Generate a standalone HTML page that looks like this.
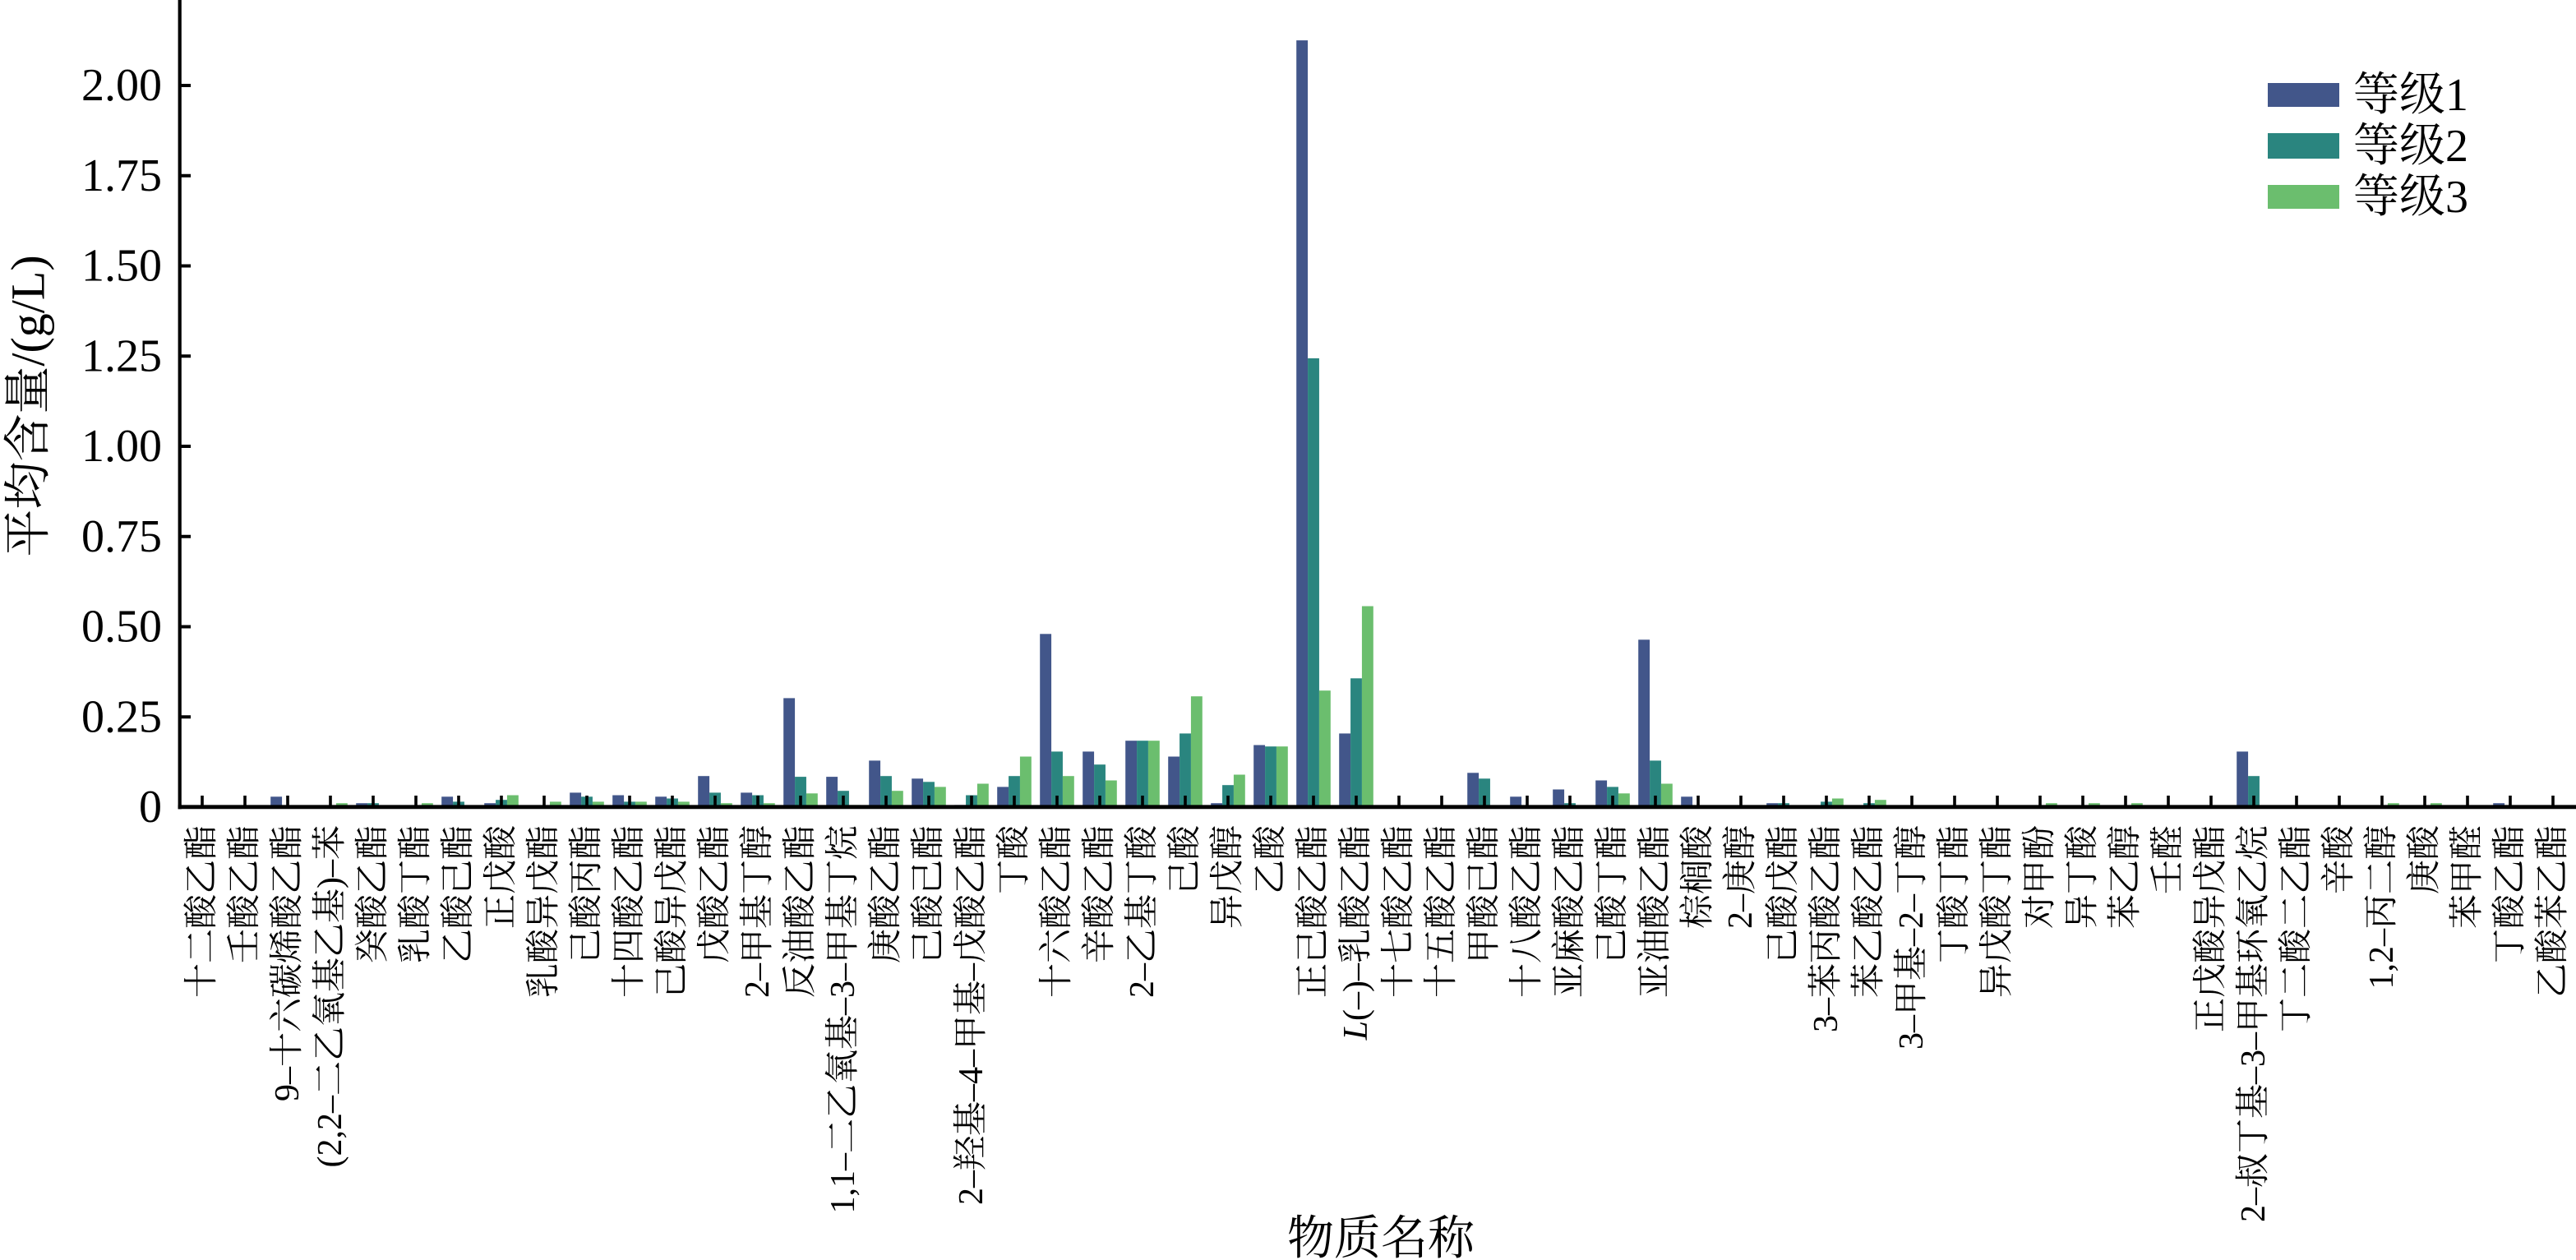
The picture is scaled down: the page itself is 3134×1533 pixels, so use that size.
<!DOCTYPE html>
<html>
<head>
<meta charset="utf-8">
<style>
  html,body{margin:0;padding:0;background:#fff;}
  svg{display:block;}
  text{font-family:"Liberation Serif","Noto Serif CJK SC",serif;fill:#000;}
  .xl{font-size:42px;}
  .b1{fill:#42568a;}
  .b2{fill:#2a857f;}
  .b3{fill:#6bbe6e;}
</style>
</head>
<body>
<svg width="3134" height="1533" viewBox="0 0 3134 1533" xmlns="http://www.w3.org/2000/svg">
<rect x="0" y="0" width="3134" height="1533" fill="#fff"/>

<!-- bars: groups translated to center, flipped -->
<g>
<g transform="translate(246,982) scale(1,-1)"><rect class="b1" x="-20.8" y="0" width="13.87" height="1.8"/><rect class="b2" x="-6.93" y="0" width="13.87" height="1.3"/><rect class="b3" x="6.93" y="0" width="13.87" height="1.8"/></g>
<g transform="translate(298,982) scale(1,-1)"><rect class="b1" x="-20.8" y="0" width="13.87" height="1.8"/><rect class="b2" x="-6.93" y="0" width="13.87" height="1.3"/></g>
<g transform="translate(350,982) scale(1,-1)"><rect class="b1" x="-20.8" y="0" width="13.87" height="12.7"/><rect class="b2" x="-6.93" y="0" width="13.87" height="1.8"/></g>
<g transform="translate(402,982) scale(1,-1)"><rect class="b2" x="-6.93" y="0" width="13.87" height="1.8"/><rect class="b3" x="6.93" y="0" width="13.87" height="4.8"/></g>
<g transform="translate(454,982) scale(1,-1)"><rect class="b1" x="-20.8" y="0" width="13.87" height="4.8"/><rect class="b2" x="-6.93" y="0" width="13.87" height="4.8"/><rect class="b3" x="6.93" y="0" width="13.87" height="1.8"/></g>
<g transform="translate(506,982) scale(1,-1)"><rect class="b1" x="-20.8" y="0" width="13.87" height="1.3"/><rect class="b3" x="6.93" y="0" width="13.87" height="4.8"/></g>
<g transform="translate(558,982) scale(1,-1)"><rect class="b1" x="-20.8" y="0" width="13.87" height="12.7"/><rect class="b2" x="-6.93" y="0" width="13.87" height="6.6"/></g>
<g transform="translate(610,982) scale(1,-1)"><rect class="b1" x="-20.8" y="0" width="13.87" height="4.8"/><rect class="b2" x="-6.93" y="0" width="13.87" height="8.8"/><rect class="b3" x="6.93" y="0" width="13.87" height="14.5"/></g>
<g transform="translate(662,982) scale(1,-1)"><rect class="b1" x="-20.8" y="0" width="13.87" height="1.8"/><rect class="b3" x="6.93" y="0" width="13.87" height="6.6"/></g>
<g transform="translate(714,982) scale(1,-1)"><rect class="b1" x="-20.8" y="0" width="13.87" height="17.6"/><rect class="b2" x="-6.93" y="0" width="13.87" height="12.7"/><rect class="b3" x="6.93" y="0" width="13.87" height="6.6"/></g>
<g transform="translate(766,982) scale(1,-1)"><rect class="b1" x="-20.8" y="0" width="13.87" height="14.5"/><rect class="b2" x="-6.93" y="0" width="13.87" height="6.6"/><rect class="b3" x="6.93" y="0" width="13.87" height="6.6"/></g>
<g transform="translate(818,982) scale(1,-1)"><rect class="b1" x="-20.8" y="0" width="13.87" height="12.7"/><rect class="b2" x="-6.93" y="0" width="13.87" height="10.5"/><rect class="b3" x="6.93" y="0" width="13.87" height="6.6"/></g>
<g transform="translate(870,982) scale(1,-1)"><rect class="b1" x="-20.8" y="0" width="13.87" height="37.8"/><rect class="b2" x="-6.93" y="0" width="13.87" height="17.6"/><rect class="b3" x="6.93" y="0" width="13.87" height="4.8"/></g>
<g transform="translate(922,982) scale(1,-1)"><rect class="b1" x="-20.8" y="0" width="13.87" height="17.6"/><rect class="b2" x="-6.93" y="0" width="13.87" height="14.5"/><rect class="b3" x="6.93" y="0" width="13.87" height="4.8"/></g>
<g transform="translate(974,982) scale(1,-1)"><rect class="b1" x="-20.8" y="0" width="13.87" height="132.6"/><rect class="b2" x="-6.93" y="0" width="13.87" height="36.9"/><rect class="b3" x="6.93" y="0" width="13.87" height="16.7"/></g>
<g transform="translate(1026,982) scale(1,-1)"><rect class="b1" x="-20.8" y="0" width="13.87" height="36.9"/><rect class="b2" x="-6.93" y="0" width="13.87" height="19.8"/><rect class="b3" x="6.93" y="0" width="13.87" height="2.6"/></g>
<g transform="translate(1078,982) scale(1,-1)"><rect class="b1" x="-20.8" y="0" width="13.87" height="56.6"/><rect class="b2" x="-6.93" y="0" width="13.87" height="37.8"/><rect class="b3" x="6.93" y="0" width="13.87" height="19.8"/></g>
<g transform="translate(1130,982) scale(1,-1)"><rect class="b1" x="-20.8" y="0" width="13.87" height="34.7"/><rect class="b2" x="-6.93" y="0" width="13.87" height="30.7"/><rect class="b3" x="6.93" y="0" width="13.87" height="24.6"/></g>
<g transform="translate(1182,982) scale(1,-1)"><rect class="b1" x="-20.8" y="0" width="13.87" height="2.6"/><rect class="b2" x="-6.93" y="0" width="13.87" height="14.5"/><rect class="b3" x="6.93" y="0" width="13.87" height="28.5"/></g>
<g transform="translate(1234,982) scale(1,-1)"><rect class="b1" x="-20.8" y="0" width="13.87" height="24.6"/><rect class="b2" x="-6.93" y="0" width="13.87" height="37.8"/><rect class="b3" x="6.93" y="0" width="13.87" height="61.5"/></g>
<g transform="translate(1286,982) scale(1,-1)"><rect class="b1" x="-20.8" y="0" width="13.87" height="210.7"/><rect class="b2" x="-6.93" y="0" width="13.87" height="67.6"/><rect class="b3" x="6.93" y="0" width="13.87" height="37.8"/></g>
<g transform="translate(1338,982) scale(1,-1)"><rect class="b1" x="-20.8" y="0" width="13.87" height="67.6"/><rect class="b2" x="-6.93" y="0" width="13.87" height="51.8"/><rect class="b3" x="6.93" y="0" width="13.87" height="32.5"/></g>
<g transform="translate(1390,982) scale(1,-1)"><rect class="b1" x="-20.8" y="0" width="13.87" height="80.8"/><rect class="b2" x="-6.93" y="0" width="13.87" height="80.8"/><rect class="b3" x="6.93" y="0" width="13.87" height="80.8"/></g>
<g transform="translate(1442,982) scale(1,-1)"><rect class="b1" x="-20.8" y="0" width="13.87" height="61.5"/><rect class="b2" x="-6.93" y="0" width="13.87" height="89.6"/><rect class="b3" x="6.93" y="0" width="13.87" height="134.8"/></g>
<g transform="translate(1494,982) scale(1,-1)"><rect class="b1" x="-20.8" y="0" width="13.87" height="4.8"/><rect class="b2" x="-6.93" y="0" width="13.87" height="26.8"/><rect class="b3" x="6.93" y="0" width="13.87" height="39.5"/></g>
<g transform="translate(1546,982) scale(1,-1)"><rect class="b1" x="-20.8" y="0" width="13.87" height="75.5"/><rect class="b2" x="-6.93" y="0" width="13.87" height="73.8"/><rect class="b3" x="6.93" y="0" width="13.87" height="73.8"/></g>
<g transform="translate(1598,982) scale(1,-1)"><rect class="b1" x="-20.8" y="0" width="13.87" height="932.9"/><rect class="b2" x="-6.93" y="0" width="13.87" height="546.1"/><rect class="b3" x="6.93" y="0" width="13.87" height="141.8"/></g>
<g transform="translate(1650,982) scale(1,-1)"><rect class="b1" x="-20.8" y="0" width="13.87" height="89.6"/><rect class="b2" x="-6.93" y="0" width="13.87" height="156.7"/><rect class="b3" x="6.93" y="0" width="13.87" height="244.5"/></g>
<g transform="translate(1702,982) scale(1,-1)"><rect class="b1" x="-20.8" y="0" width="13.87" height="1.8"/></g>
<g transform="translate(1754,982) scale(1,-1)"><rect class="b1" x="-20.8" y="0" width="13.87" height="1.8"/></g>
<g transform="translate(1806,982) scale(1,-1)"><rect class="b1" x="-20.8" y="0" width="13.87" height="41.7"/><rect class="b2" x="-6.93" y="0" width="13.87" height="34.7"/></g>
<g transform="translate(1858,982) scale(1,-1)"><rect class="b1" x="-20.8" y="0" width="13.87" height="12.7"/><rect class="b2" x="-6.93" y="0" width="13.87" height="1.8"/></g>
<g transform="translate(1910,982) scale(1,-1)"><rect class="b1" x="-20.8" y="0" width="13.87" height="21.5"/><rect class="b2" x="-6.93" y="0" width="13.87" height="4.8"/></g>
<g transform="translate(1962,982) scale(1,-1)"><rect class="b1" x="-20.8" y="0" width="13.87" height="32.5"/><rect class="b2" x="-6.93" y="0" width="13.87" height="24.6"/><rect class="b3" x="6.93" y="0" width="13.87" height="16.7"/></g>
<g transform="translate(2014,982) scale(1,-1)"><rect class="b1" x="-20.8" y="0" width="13.87" height="203.7"/><rect class="b2" x="-6.93" y="0" width="13.87" height="56.6"/><rect class="b3" x="6.93" y="0" width="13.87" height="28.5"/></g>
<g transform="translate(2066,982) scale(1,-1)"><rect class="b1" x="-20.8" y="0" width="13.87" height="12.7"/><rect class="b2" x="-6.93" y="0" width="13.87" height="1.8"/></g>
<g transform="translate(2170,982) scale(1,-1)"><rect class="b1" x="-20.8" y="0" width="13.87" height="4.8"/><rect class="b2" x="-6.93" y="0" width="13.87" height="4.8"/><rect class="b3" x="6.93" y="0" width="13.87" height="1.8"/></g>
<g transform="translate(2222,982) scale(1,-1)"><rect class="b1" x="-20.8" y="0" width="13.87" height="1.8"/><rect class="b2" x="-6.93" y="0" width="13.87" height="6.6"/><rect class="b3" x="6.93" y="0" width="13.87" height="10.5"/></g>
<g transform="translate(2274,982) scale(1,-1)"><rect class="b2" x="-6.93" y="0" width="13.87" height="4.8"/><rect class="b3" x="6.93" y="0" width="13.87" height="8.8"/></g>
<g transform="translate(2378,982) scale(1,-1)"><rect class="b1" x="-20.8" y="0" width="13.87" height="1.8"/><rect class="b2" x="-6.93" y="0" width="13.87" height="1.8"/></g>
<g transform="translate(2430,982) scale(1,-1)"><rect class="b1" x="-20.8" y="0" width="13.87" height="1.8"/></g>
<g transform="translate(2482,982) scale(1,-1)"><rect class="b2" x="-6.93" y="0" width="13.87" height="1.8"/><rect class="b3" x="6.93" y="0" width="13.87" height="4.8"/></g>
<g transform="translate(2534,982) scale(1,-1)"><rect class="b2" x="-6.93" y="0" width="13.87" height="1.8"/><rect class="b3" x="6.93" y="0" width="13.87" height="4.8"/></g>
<g transform="translate(2586,982) scale(1,-1)"><rect class="b1" x="-20.8" y="0" width="13.87" height="1.8"/><rect class="b2" x="-6.93" y="0" width="13.87" height="1.8"/><rect class="b3" x="6.93" y="0" width="13.87" height="4.8"/></g>
<g transform="translate(2742,982) scale(1,-1)"><rect class="b1" x="-20.8" y="0" width="13.87" height="67.6"/><rect class="b2" x="-6.93" y="0" width="13.87" height="37.8"/><rect class="b3" x="6.93" y="0" width="13.87" height="1.8"/></g>
<g transform="translate(2794,982) scale(1,-1)"><rect class="b2" x="-6.93" y="0" width="13.87" height="1.8"/><rect class="b3" x="6.93" y="0" width="13.87" height="1.8"/></g>
<g transform="translate(2846,982) scale(1,-1)"><rect class="b2" x="-6.93" y="0" width="13.87" height="1.8"/><rect class="b3" x="6.93" y="0" width="13.87" height="1.8"/></g>
<g transform="translate(2898,982) scale(1,-1)"><rect class="b2" x="-6.93" y="0" width="13.87" height="1.8"/><rect class="b3" x="6.93" y="0" width="13.87" height="4.8"/></g>
<g transform="translate(2950,982) scale(1,-1)"><rect class="b2" x="-6.93" y="0" width="13.87" height="1.8"/><rect class="b3" x="6.93" y="0" width="13.87" height="4.8"/></g>
<g transform="translate(3054,982) scale(1,-1)"><rect class="b1" x="-20.8" y="0" width="13.87" height="4.8"/><rect class="b2" x="-6.93" y="0" width="13.87" height="1.8"/></g>
<g transform="translate(3106,982) scale(1,-1)"><rect class="b3" x="6.93" y="0" width="13.87" height="1.8"/></g>
</g>

<!-- x ticks -->
<g stroke="#000" stroke-width="3.6">
<path d="M246 982V968M298 982V968M350 982V968M402 982V968M454 982V968M506 982V968M558 982V968M610 982V968M662 982V968M714 982V968M766 982V968M818 982V968M870 982V968M922 982V968M974 982V968M1026 982V968M1078 982V968M1130 982V968M1182 982V968M1234 982V968M1286 982V968M1338 982V968M1390 982V968M1442 982V968M1494 982V968M1546 982V968M1598 982V968M1650 982V968M1702 982V968M1754 982V968M1806 982V968M1858 982V968M1910 982V968M1962 982V968M2014 982V968M2066 982V968M2118 982V968M2170 982V968M2222 982V968M2274 982V968M2326 982V968M2378 982V968M2430 982V968M2482 982V968M2534 982V968M2586 982V968M2638 982V968M2690 982V968M2742 982V968M2794 982V968M2846 982V968M2898 982V968M2950 982V968M3002 982V968M3054 982V968M3106 982V968"/>
</g>

<!-- y ticks -->
<g stroke="#000" stroke-width="4">
<path d="M218 982H232M218 872.25H232M218 762.5H232M218 652.75H232M218 543H232M218 433.25H232M218 323.5H232M218 213.75H232M218 104H232"/>
</g>

<!-- spines -->
<line x1="218.7" y1="0" x2="218.7" y2="984.4" stroke="#000" stroke-width="4.2"/>
<line x1="216.6" y1="981.8" x2="3134" y2="981.8" stroke="#000" stroke-width="4.8"/>

<!-- y tick labels -->
<g font-size="56" text-anchor="end" dominant-baseline="central">
<text x="197" y="982">0</text>
<text x="197" y="872.25">0.25</text>
<text x="197" y="762.5">0.50</text>
<text x="197" y="652.75">0.75</text>
<text x="197" y="543">1.00</text>
<text x="197" y="433.25">1.25</text>
<text x="197" y="323.5">1.50</text>
<text x="197" y="213.75">1.75</text>
<text x="197" y="104">2.00</text>
</g>

<!-- y axis label -->
<text transform="translate(34,494) rotate(-90)" font-size="58" text-anchor="middle" dominant-baseline="central">平均含量/(g/L)</text>

<!-- x axis title -->
<text x="1680" y="1507" font-size="57" text-anchor="middle" dominant-baseline="central">物质名称</text>

<!-- x tick labels -->
<g class="xl" text-anchor="end" dominant-baseline="central">
<text transform="translate(246,1004) rotate(-90)">十二酸乙酯</text>
<text transform="translate(298,1004) rotate(-90)">壬酸乙酯</text>
<text transform="translate(350,1004) rotate(-90)">9–十六碳烯酸乙酯</text>
<text transform="translate(402,1004) rotate(-90)">(2,2–二乙氧基乙基)–苯</text>
<text transform="translate(454,1004) rotate(-90)">癸酸乙酯</text>
<text transform="translate(506,1004) rotate(-90)">乳酸丁酯</text>
<text transform="translate(558,1004) rotate(-90)">乙酸己酯</text>
<text transform="translate(610,1004) rotate(-90)">正戊酸</text>
<text transform="translate(662,1004) rotate(-90)">乳酸异戊酯</text>
<text transform="translate(714,1004) rotate(-90)">己酸丙酯</text>
<text transform="translate(766,1004) rotate(-90)">十四酸乙酯</text>
<text transform="translate(818,1004) rotate(-90)">己酸异戊酯</text>
<text transform="translate(870,1004) rotate(-90)">戊酸乙酯</text>
<text transform="translate(922,1004) rotate(-90)">2–甲基丁醇</text>
<text transform="translate(974,1004) rotate(-90)">反油酸乙酯</text>
<text transform="translate(1026,1004) rotate(-90)">1,1–二乙氧基–3–甲基丁烷</text>
<text transform="translate(1078,1004) rotate(-90)">庚酸乙酯</text>
<text transform="translate(1130,1004) rotate(-90)">己酸己酯</text>
<text transform="translate(1182,1004) rotate(-90)">2–羟基–4–甲基–戊酸乙酯</text>
<text transform="translate(1234,1004) rotate(-90)">丁酸</text>
<text transform="translate(1286,1004) rotate(-90)">十六酸乙酯</text>
<text transform="translate(1338,1004) rotate(-90)">辛酸乙酯</text>
<text transform="translate(1390,1004) rotate(-90)">2–乙基丁酸</text>
<text transform="translate(1442,1004) rotate(-90)">己酸</text>
<text transform="translate(1494,1004) rotate(-90)">异戊醇</text>
<text transform="translate(1546,1004) rotate(-90)">乙酸</text>
<text transform="translate(1598,1004) rotate(-90)">正己酸乙酯</text>
<text transform="translate(1650,1004) rotate(-90)"><tspan font-style="italic">L</tspan>(–)–乳酸乙酯</text>
<text transform="translate(1702,1004) rotate(-90)">十七酸乙酯</text>
<text transform="translate(1754,1004) rotate(-90)">十五酸乙酯</text>
<text transform="translate(1806,1004) rotate(-90)">甲酸己酯</text>
<text transform="translate(1858,1004) rotate(-90)">十八酸乙酯</text>
<text transform="translate(1910,1004) rotate(-90)">亚麻酸乙酯</text>
<text transform="translate(1962,1004) rotate(-90)">己酸丁酯</text>
<text transform="translate(2014,1004) rotate(-90)">亚油酸乙酯</text>
<text transform="translate(2066,1004) rotate(-90)">棕榈酸</text>
<text transform="translate(2118,1004) rotate(-90)">2–庚醇</text>
<text transform="translate(2170,1004) rotate(-90)">己酸戊酯</text>
<text transform="translate(2222,1004) rotate(-90)">3–苯丙酸乙酯</text>
<text transform="translate(2274,1004) rotate(-90)">苯乙酸乙酯</text>
<text transform="translate(2326,1004) rotate(-90)">3–甲基–2–丁醇</text>
<text transform="translate(2378,1004) rotate(-90)">丁酸丁酯</text>
<text transform="translate(2430,1004) rotate(-90)">异戊酸丁酯</text>
<text transform="translate(2482,1004) rotate(-90)">对甲酚</text>
<text transform="translate(2534,1004) rotate(-90)">异丁酸</text>
<text transform="translate(2586,1004) rotate(-90)">苯乙醇</text>
<text transform="translate(2638,1004) rotate(-90)">壬醛</text>
<text transform="translate(2690,1004) rotate(-90)">正戊酸异戊酯</text>
<text transform="translate(2742,1004) rotate(-90)">2–叔丁基–3–甲基环氧乙烷</text>
<text transform="translate(2794,1004) rotate(-90)">丁二酸二乙酯</text>
<text transform="translate(2846,1004) rotate(-90)">辛酸</text>
<text transform="translate(2898,1004) rotate(-90)">1,2–丙二醇</text>
<text transform="translate(2950,1004) rotate(-90)">庚酸</text>
<text transform="translate(3002,1004) rotate(-90)">苯甲醛</text>
<text transform="translate(3054,1004) rotate(-90)">丁酸乙酯</text>
<text transform="translate(3106,1004) rotate(-90)">乙酸苯乙酯</text>
</g>

<!-- legend -->
<rect class="b1" x="2759" y="101" width="87" height="29"/>
<rect class="b2" x="2759" y="162" width="87" height="31"/>
<rect class="b3" x="2759" y="225" width="87" height="29"/>
<g font-size="56" dominant-baseline="central">
<text x="2863" y="116">等级1</text>
<text x="2863" y="178">等级2</text>
<text x="2863" y="240">等级3</text>
</g>
</svg>
</body>
</html>
